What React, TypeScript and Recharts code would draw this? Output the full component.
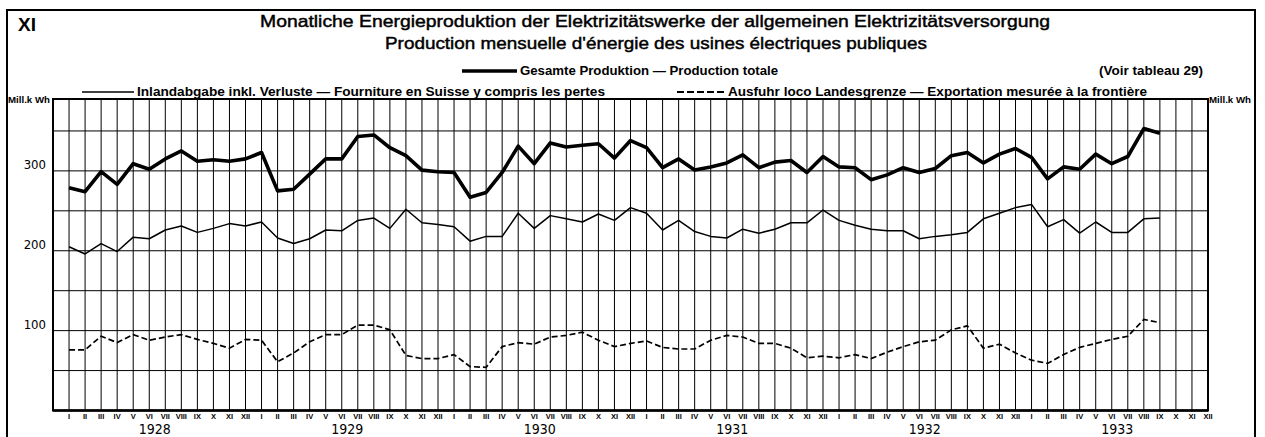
import { CartesianGrid, Line, LineChart, ReferenceArea, XAxis, YAxis } from "recharts"

// Monthly energy production of the public power stations, 1928–1933 (Mill. kWh)

const MONTHS = ["I", "II", "III", "IV", "V", "VI", "VII", "VIII", "IX", "X", "XI", "XII"]
const YEARS = [1928, 1929, 1930, 1931, 1932, 1933]

// Gesamte Produktion — Production totale
const TOTAL = [
  279, 274, 299, 283, 309, 302, 315, 325, 312, 314, 312, 315,
  323, 275, 277, 296, 315, 315, 343, 345, 329, 319, 301, 299,
  298, 267, 273, 298, 331, 309, 335, 330, 332, 334, 316, 338,
  329, 304, 315, 301, 305, 310, 320, 304, 311, 313, 298, 318,
  305, 304, 289, 295, 304, 298, 303, 319, 323, 310, 321, 328,
  317, 290, 305, 302, 321, 309, 318, 353, 347,
]

// Inlandabgabe inkl. Verluste — Fourniture en Suisse
const INLAND = [
  205, 196, 209, 199, 217, 215, 226, 231, 223, 228, 234, 231,
  236, 216, 209, 215, 226, 225, 238, 241, 228, 252, 235, 233,
  230, 212, 218, 218, 247, 228, 244, 240, 236, 246, 238, 254,
  247, 226, 238, 224, 218, 216, 227, 222, 227, 235, 235, 251,
  238, 232, 227, 225, 225, 215, 218, 220, 223, 240, 247, 254,
  258, 230, 239, 222, 236, 223, 223, 240, 241,
]

// Ausfuhr loco Landesgrenze — Exportation
const EXPORT = [
  76, 76, 93, 85, 95, 88, 92, 95, 89, 84, 78, 89,
  88, 61, 72, 86, 95, 95, 107, 107, 101, 69, 65, 65,
  70, 55, 54, 80, 85, 83, 92, 94, 98, 88, 80, 84,
  87, 79, 77, 77, 88, 94, 92, 84, 84, 78, 66, 68,
  66, 70, 65, 73, 80, 86, 88, 101, 106, 78, 83, 72,
  63, 59, 70, 79, 84, 89, 93, 114, 110,
]

const Y_TICKS = [50, 100, 150, 200, 250, 300, 350]
const Y_LABELS = [100, 200, 300]

const MONTH_IDX = YEARS.flatMap((_, y) => MONTHS.map((_, m) => y * 12 + m))

const data = MONTH_IDX.map((i) => ({
  i,
  total: TOTAL[i] ?? null,
  inland: INLAND[i] ?? null,
  export: EXPORT[i] ?? null,
}))

const NARROW = "'Liberation Sans Narrow', 'Liberation Sans', Arial, sans-serif"
const SANS = "'Liberation Sans', Arial, sans-serif"
const DIGITS = "'DejaVu Sans Condensed', 'DejaVu Sans', sans-serif"

function MonthTick(props: any) {
  const { x, y, payload } = props
  const i = payload.value as number
  const m = i % 12
  return (
    <g>
      <text x={x} y={y + 8} textAnchor="middle" fontSize={7.5} fontWeight="bold" fontFamily={NARROW} fill="#000">
        {MONTHS[m]}
      </text>
      {m === 5 && (
        <text x={x + 5.6} y={y + 23} textAnchor="middle" fontSize={14} fontFamily={DIGITS} fontStretch="condensed" fill="#000">
          {YEARS[Math.floor(i / 12)]}
        </text>
      )}
    </g>
  )
}

function ValueTick(props: any) {
  const { x, y, payload, side } = props
  if (!Y_LABELS.includes(payload.value)) return null
  return (
    <text x={x} y={y - 1.5} textAnchor={side === "left" ? "end" : "start"} fontSize={13} fontFamily={DIGITS} fill="#000">
      {payload.value}
    </text>
  )
}

function Titles() {
  return (
    <svg width={1265} height={437} style={{ position: "absolute", left: 0, top: 0, pointerEvents: "none" }}>
      {/* outer frame */}
      <polyline points="7,437 7,10 1255,10 1255,437" fill="none" stroke="#000" strokeWidth={2} />

      <text x={18} y={31} fontSize={19} fontWeight="bold" fontFamily={SANS}>XI</text>

      <text x={655} y={27} textAnchor="middle" fontSize={17} fontFamily={SANS} stroke="#000" strokeWidth={0.45}
        textLength={790} lengthAdjust="spacingAndGlyphs">
        Monatliche Energieproduktion der Elektrizitätswerke der allgemeinen Elektrizitätsversorgung
      </text>
      <text x={656} y={49} textAnchor="middle" fontSize={17} fontFamily={SANS} stroke="#000" strokeWidth={0.45}
        textLength={542} lengthAdjust="spacingAndGlyphs">
        Production mensuelle d'énergie des usines électriques publiques
      </text>

      <line x1={462} x2={517} y1={71} y2={71} stroke="#000" strokeWidth={3.5} />
      <text x={520} y={75} fontSize={12} fontWeight="bold" fontFamily={SANS} textLength={258} lengthAdjust="spacingAndGlyphs">
        Gesamte Produktion — Production totale
      </text>
      <text x={1099} y={75} fontSize={12} fontWeight="bold" fontFamily={SANS} textLength={104} lengthAdjust="spacingAndGlyphs">
        (Voir tableau 29)
      </text>

      <line x1={82} x2={134} y1={92} y2={92} stroke="#000" strokeWidth={1.6} />
      <text x={137} y={96} fontSize={12} fontWeight="bold" fontFamily={SANS} textLength={468} lengthAdjust="spacingAndGlyphs">
        Inlandabgabe inkl. Verluste — Fourniture en Suisse y compris les pertes
      </text>
      <line x1={677} x2={725} y1={92} y2={92} stroke="#000" strokeWidth={1.8} strokeDasharray="7 3" />
      <text x={728} y={96} fontSize={12} fontWeight="bold" fontFamily={SANS} textLength={419} lengthAdjust="spacingAndGlyphs">
        Ausfuhr loco Landesgrenze — Exportation mesurée à la frontière
      </text>

      <text x={8} y={103} fontSize={8.5} fontWeight="bold" fontFamily={NARROW} textLength={42} lengthAdjust="spacingAndGlyphs">
        Mill.k Wh
      </text>
      <text x={1209} y={103} fontSize={8.5} fontWeight="bold" fontFamily={NARROW} textLength={42} lengthAdjust="spacingAndGlyphs">
        Mill.k Wh
      </text>
    </svg>
  )
}

export default function App() {
  return (
    <div style={{ position: "absolute", left: 0, top: 0, width: 1265, height: 437, background: "#fff" }}>
      <LineChart width={1265} height={437} data={data} margin={{ top: 99, right: 0, bottom: 0, left: 0 }}>
        <CartesianGrid stroke="#000" strokeWidth={1} />
        <XAxis
          type="number"
          dataKey="i"
          domain={[-1, 71]}
          ticks={MONTH_IDX}
          interval={0}
          height={26.5}
          tickSize={0}
          tickMargin={0}
          tickLine={false}
          axisLine={{ stroke: "#000", strokeWidth: 2.5 }}
          tick={(p: any) => <MonthTick {...p} />}
        />
        <YAxis
          domain={[0, 390]}
          ticks={Y_TICKS}
          width={53}
          tickSize={0}
          tickMargin={7}
          axisLine={false}
          tickLine={false}
          tick={(p: any) => <ValueTick {...p} side="left" />}
        />
        <YAxis
          yAxisId="r"
          orientation="right"
          domain={[0, 390]}
          ticks={Y_TICKS}
          width={57}
          tickSize={0}
          tickMargin={9}
          axisLine={false}
          tickLine={false}
          tick={(p: any) => <ValueTick {...p} side="right" />}
        />
        <ReferenceArea x1={-1} x2={71} y1={0} y2={390} fill="none" stroke="#000" strokeWidth={2} />
        <Line dataKey="total" stroke="#000" strokeWidth={3.6} dot={false} strokeLinejoin="round" isAnimationActive={false} />
        <Line dataKey="inland" stroke="#000" strokeWidth={1.5} dot={false} strokeLinejoin="round" isAnimationActive={false} />
        <Line dataKey="export" stroke="#000" strokeWidth={1.7} strokeDasharray="6 3" dot={false} isAnimationActive={false} />
      </LineChart>
      <Titles />
    </div>
  )
}
